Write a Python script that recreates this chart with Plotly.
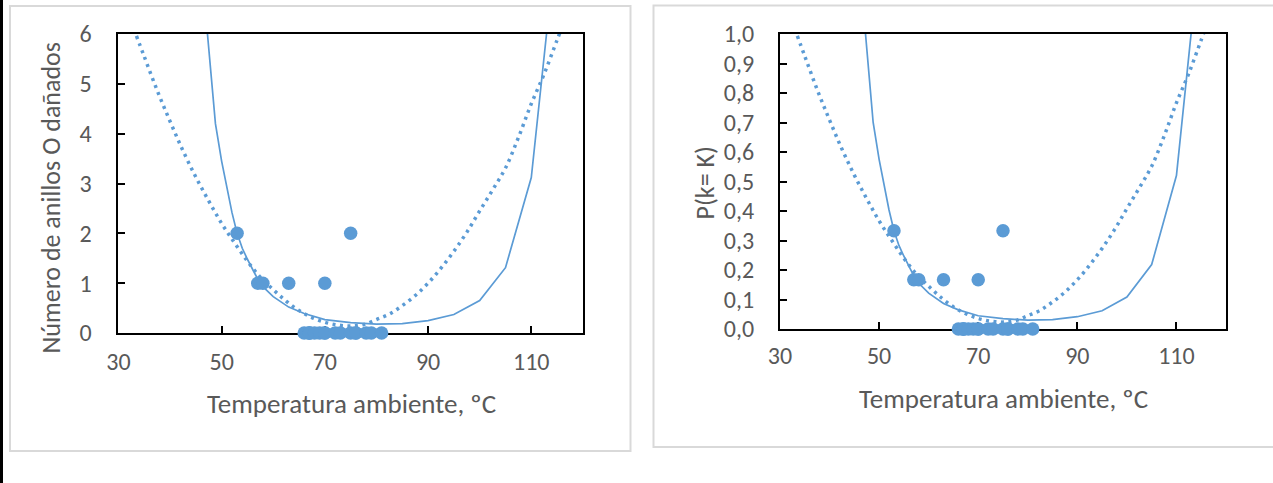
import plotly.graph_objects as go

# ---------------- data ----------------
# Challenger O-ring data: ambient temperature and number of damaged O-rings
temps = [53, 57, 58, 63, 70, 75,
         66, 67, 67, 67, 68, 69, 70, 70, 72, 73, 75, 76, 76, 78, 79, 81]
damaged = [2, 1, 1, 1, 1, 2,
           0, 0, 0, 0, 0, 0, 0, 0, 0, 0, 0, 0, 0, 0, 0, 0]
prob = [0.333, 0.167, 0.167, 0.167, 0.167, 0.333,
        0, 0, 0, 0, 0, 0, 0, 0, 0, 0, 0, 0, 0, 0, 0, 0]

# solid model curve, expected damaged O-rings
model_x = [47.0, 48.8, 50, 51, 52, 53, 54, 55, 56, 57, 58, 60, 63, 66, 70,
           75, 80, 85, 90, 95, 100, 105, 110, 115]
model_y = [6.3, 4.2, 3.45, 2.9, 2.42, 2.0, 1.7, 1.48, 1.27, 1.08, 0.93, 0.73,
           0.52, 0.39, 0.27, 0.21, 0.18, 0.19, 0.25, 0.37, 0.65, 1.31, 3.12, 8.0]

# dotted trend curve
trend_x = [33.5, 35, 37.5, 40, 42.5, 45, 47.5, 50, 52.5, 55, 57.5, 60, 62.5,
           65, 67.5, 70, 72.5, 75, 77.5, 80, 82.5, 85, 87.5, 90, 92.5, 95,
           97.5, 100, 102.5, 105, 107.5, 110, 112.5, 115, 116]
trend_y = [5.96, 5.55, 4.87, 4.25, 3.66, 3.13, 2.65, 2.20, 1.81, 1.44, 1.12,
           0.87, 0.64, 0.45, 0.31, 0.215, 0.16, 0.14, 0.17, 0.27, 0.38, 0.55,
           0.75, 1.00, 1.30, 1.64, 2.02, 2.45, 2.87, 3.31, 3.92, 4.6, 5.2,
           5.88, 6.15]

x_ticks = [30, 50, 70, 90, 110]
y1_ticks = [0, 1, 2, 3, 4, 5, 6]
y2_ticks = [0, 0.1, 0.2, 0.3, 0.4, 0.5, 0.6, 0.7, 0.8, 0.9, 1.0]
y2_labels = ["0,0", "0,1", "0,2", "0,3", "0,4", "0,5", "0,6", "0,7", "0,8",
             "0,9", "1,0"]

x_title = "Temperatura ambiente, ºC"
y1_title = "Número de anillos O dañados"
y2_title = "P(k= K)"

# ---------------- styling ----------------
W, H = 1273, 483
BLUE = "#5B9BD5"
GRAY = "#595959"
FONT = "Carlito, Lato, sans-serif"

def px_x(p):
    return p / W

def px_y(p):
    return 1 - p / H

fig = go.Figure()

model_y2 = [v / 6 for v in model_y]
trend_y2 = [v / 6 for v in trend_y]

for xa, ya, yv, my, ty in [("x", "y", damaged, model_y, trend_y),
                           ("x2", "y2", prob, model_y2, trend_y2)]:
    fig.add_trace(go.Scatter(x=trend_x, y=ty, mode="lines", xaxis=xa, yaxis=ya,
                             line=dict(color=BLUE, width=3.5, dash="3px,4.5px",
                                       shape="spline"),
                             hoverinfo="skip", showlegend=False))
    fig.add_trace(go.Scatter(x=model_x, y=my, mode="lines", xaxis=xa, yaxis=ya,
                             line=dict(color=BLUE, width=1.7),
                             hoverinfo="skip", showlegend=False))
    fig.add_trace(go.Scatter(x=temps, y=yv, mode="markers", xaxis=xa, yaxis=ya,
                             marker=dict(color=BLUE, size=13.5),
                             cliponaxis=False, showlegend=False))

axis_common = dict(showgrid=False, zeroline=False, showline=True,
                   linecolor="black", linewidth=2, mirror=True,
                   ticks="inside", ticklen=7, tickwidth=2, tickcolor="black",
                   tickfont=dict(family=FONT, size=24, color=GRAY))

fig.update_layout(
    autosize=True,
    margin=dict(l=0, r=0, t=0, b=0, autoexpand=False),
    paper_bgcolor="white", plot_bgcolor="white",
    font=dict(family=FONT, color=GRAY),
    xaxis=dict(domain=[px_x(118.4), px_x(582.9)], range=[30, 120],
               tickvals=x_ticks, anchor="y", ticklabelstandoff=6,
               layer="below traces", **axis_common),
    yaxis=dict(domain=[px_y(333), px_y(34)], range=[0, 6],
               tickvals=y1_ticks, anchor="x", ticklabelstandoff=20,
               **axis_common),
    xaxis2=dict(domain=[px_x(780), px_x(1226)], range=[30, 120],
                tickvals=x_ticks, anchor="y2", ticklabelstandoff=4,
                layer="below traces", **axis_common),
    yaxis2=dict(domain=[px_y(329), px_y(34)], range=[0, 1.0],
                tickvals=y2_ticks, ticktext=y2_labels, anchor="x2",
                ticklabelstandoff=19, **axis_common),
)

title_font = dict(family=FONT, size=27, color=GRAY)
for text, cx, cy, ang in [(x_title, 351, 403, 0), (x_title, 1003, 398, 0),
                          (y1_title, 50, 197.5, -90),
                          (y2_title, 704.5, 183, -90)]:
    fig.add_annotation(text=text, xref="paper", yref="paper",
                       x=px_x(cx), y=px_y(cy), xanchor="center",
                       yanchor="middle", textangle=ang, showarrow=False,
                       font=title_font if ang == 0 else
                       dict(family=FONT, size=26, color=GRAY))

# chart frames and left black edge
fig.add_shape(type="rect", xref="paper", yref="paper",
              x0=px_x(10), x1=px_x(630.5), y0=px_y(451), y1=px_y(6),
              line=dict(color="#D9D9D9", width=2), fillcolor="rgba(0,0,0,0)",
              layer="below")
fig.add_shape(type="rect", xref="paper", yref="paper",
              x0=px_x(653.5), x1=px_x(1290), y0=px_y(447), y1=px_y(5.5),
              line=dict(color="#D9D9D9", width=2), fillcolor="rgba(0,0,0,0)",
              layer="below")
fig.add_shape(type="rect", xref="paper", yref="paper",
              x0=0, x1=px_x(3), y0=0, y1=1,
              line=dict(width=0), fillcolor="black")

fig.write_html("out.html",
               default_width="%dpx" % W,
               default_height="%dpx; position:absolute; left:0px; top:0px" % H,
               config={"displayModeBar": False})
